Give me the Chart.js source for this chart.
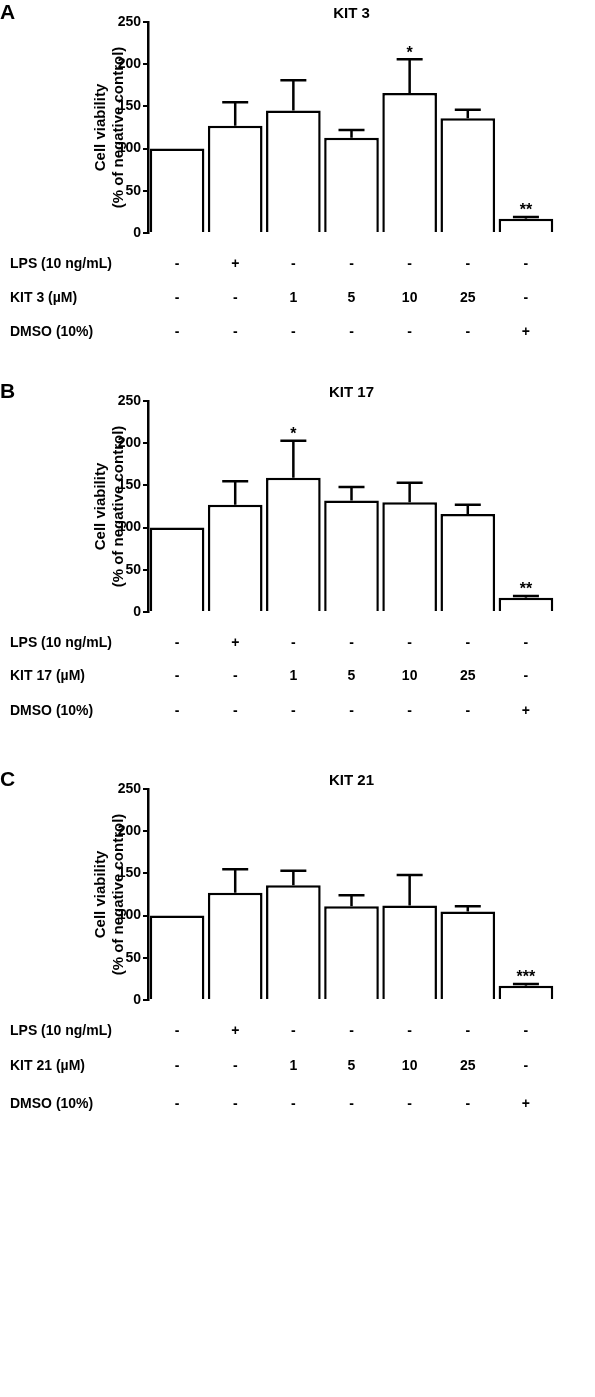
<!DOCTYPE html>
<html><head>
<script src="https://cdn.jsdelivr.net/npm/chart.js@4"></script>
<style>
body{margin:0;background:#fff;width:595px;height:1397px;position:relative;font-family:"Liberation Sans",Arial,sans-serif}
.p{position:absolute;left:0;width:595px;height:380px}
</style></head><body>
<div class="p" style="top:0"><canvas id="cA"></canvas></div>
<div class="p" style="top:379px"><canvas id="cB"></canvas></div>
<div class="p" style="top:767px"><canvas id="cC"></canvas></div>
<script>
// --- data ---
const groups = ["ctrl", "LPS", "1", "5", "10", "25", "DMSO"];
const lpsRow = ["-", "+", "-", "-", "-", "-", "-"];
const doseRow = ["-", "-", "1", "5", "10", "25", "-"];
const dmsoRow = ["-", "-", "-", "-", "-", "-", "+"];

const kit3Mean = [100, 127, 145, 113, 166, 136, 17];
const kit3Err = [0, 28, 36, 9, 40, 10, 2];
const kit3Sig = ["", "", "", "", "*", "", "**"];

const kit17Mean = [100, 127, 159, 132, 130, 116, 17];
const kit17Err = [0, 28, 44, 16, 23, 11, 2];
const kit17Sig = ["", "", "*", "", "", "", "**"];

const kit21Mean = [100, 127, 136, 111, 112, 105, 17];
const kit21Err = [0, 28, 17, 13, 36, 6, 2];
const kit21Sig = ["", "", "", "", "", "", "***"];

const yTicks = [0, 50, 100, 150, 200, 250];

const F = '"Liberation Sans", Arial, sans-serif';

function makePanel(id, letter, title, compound, mean, err, sig, rowY) {
  const extras = {
    id: 'extras',
    afterDatasetsDraw(chart) {
      const c = chart.ctx, x = chart.scales.x, y = chart.scales.y;
      c.save();
      c.fillStyle = '#000'; c.strokeStyle = '#000'; c.lineWidth = 2.5;
      // error bars (upper only) + significance
      mean.forEach((m, i) => {
        const cx = x.getPixelForValue(i);
        if (err[i] > 0) {
          const y0 = y.getPixelForValue(m), y1 = y.getPixelForValue(m + err[i]);
          c.beginPath(); c.moveTo(cx, y0); c.lineTo(cx, y1);
          c.moveTo(cx - 13, y1); c.lineTo(cx + 13, y1); c.stroke();
        }
        if (sig[i]) {
          c.font = 'bold 16px ' + F; c.textAlign = 'center'; c.textBaseline = 'bottom';
          c.fillText(sig[i], cx, y.getPixelForValue(m + err[i]) + 2);
        }
      });
      // titles
      c.font = 'bold 21px ' + F; c.textAlign = 'left'; c.textBaseline = 'alphabetic';
      c.fillText(letter, 0, 19);
      c.font = 'bold 15px ' + F; c.textAlign = 'center';
      c.fillText(title, (chart.chartArea.left + chart.chartArea.right) / 2, 18);
      // treatment table
      const labels = ["LPS (10 ng/mL)", compound + " (\u00b5M)", "DMSO (10%)"];
      const rows = [lpsRow, doseRow, dmsoRow];
      c.textBaseline = 'middle';
      rows.forEach((r, k) => {
        c.font = 'bold 14px ' + F; c.textAlign = 'left';
        c.fillText(labels[k], 10, rowY[k]);
        c.textAlign = 'center';
        r.forEach((t, i) => c.fillText(t, x.getPixelForValue(i), rowY[k]));
      });
      c.restore();
    }
  };
  new Chart(document.getElementById(id), {
    type: 'bar',
    data: { labels: groups, datasets: [{ data: mean, backgroundColor: '#fff', borderColor: '#000', borderWidth: 2.5, barPercentage: 0.94, categoryPercentage: 1 }] },
    options: {
      responsive: false, animation: false,
      devicePixelRatio: 1,
      layout: { padding: { top: 22, bottom: 147, right: 40, left: 92 } },
      plugins: { legend: { display: false }, tooltip: { enabled: false } },
      scales: {
        x: { display: false },
        y: {
          min: 0, max: 250,
          afterBuildTicks: s => { s.ticks = yTicks.map(v => ({ value: v })); },
          afterFit: s => { s.width = 56; },
          grid: { display: true, drawOnChartArea: false, drawTicks: true, tickLength: 5, color: '#000', lineWidth: 2 },
          border: { color: '#000', width: 2.5 },
          ticks: { color: '#000', font: { family: F, size: 14, weight: 'bold' }, padding: 2 },
          title: { display: true, text: ['Cell viability', '(% of negative control)'], color: '#000', font: { family: F, size: 15, weight: 'bold' }, padding: 0 }
        }
      }
    },
    plugins: [extras]
  });
}
['cA','cB','cC'].forEach(i => { const e = document.getElementById(i); e.width = 595; e.height = 380; });
makePanel('cA', 'A', 'KIT 3', 'KIT 3', kit3Mean, kit3Err, kit3Sig, [264, 298, 332]);
makePanel('cB', 'B', 'KIT 17', 'KIT 17', kit17Mean, kit17Err, kit17Sig, [264, 297, 332]);
makePanel('cC', 'C', 'KIT 21', 'KIT 21', kit21Mean, kit21Err, kit21Sig, [264, 299, 337]);
</script>
</body></html>
